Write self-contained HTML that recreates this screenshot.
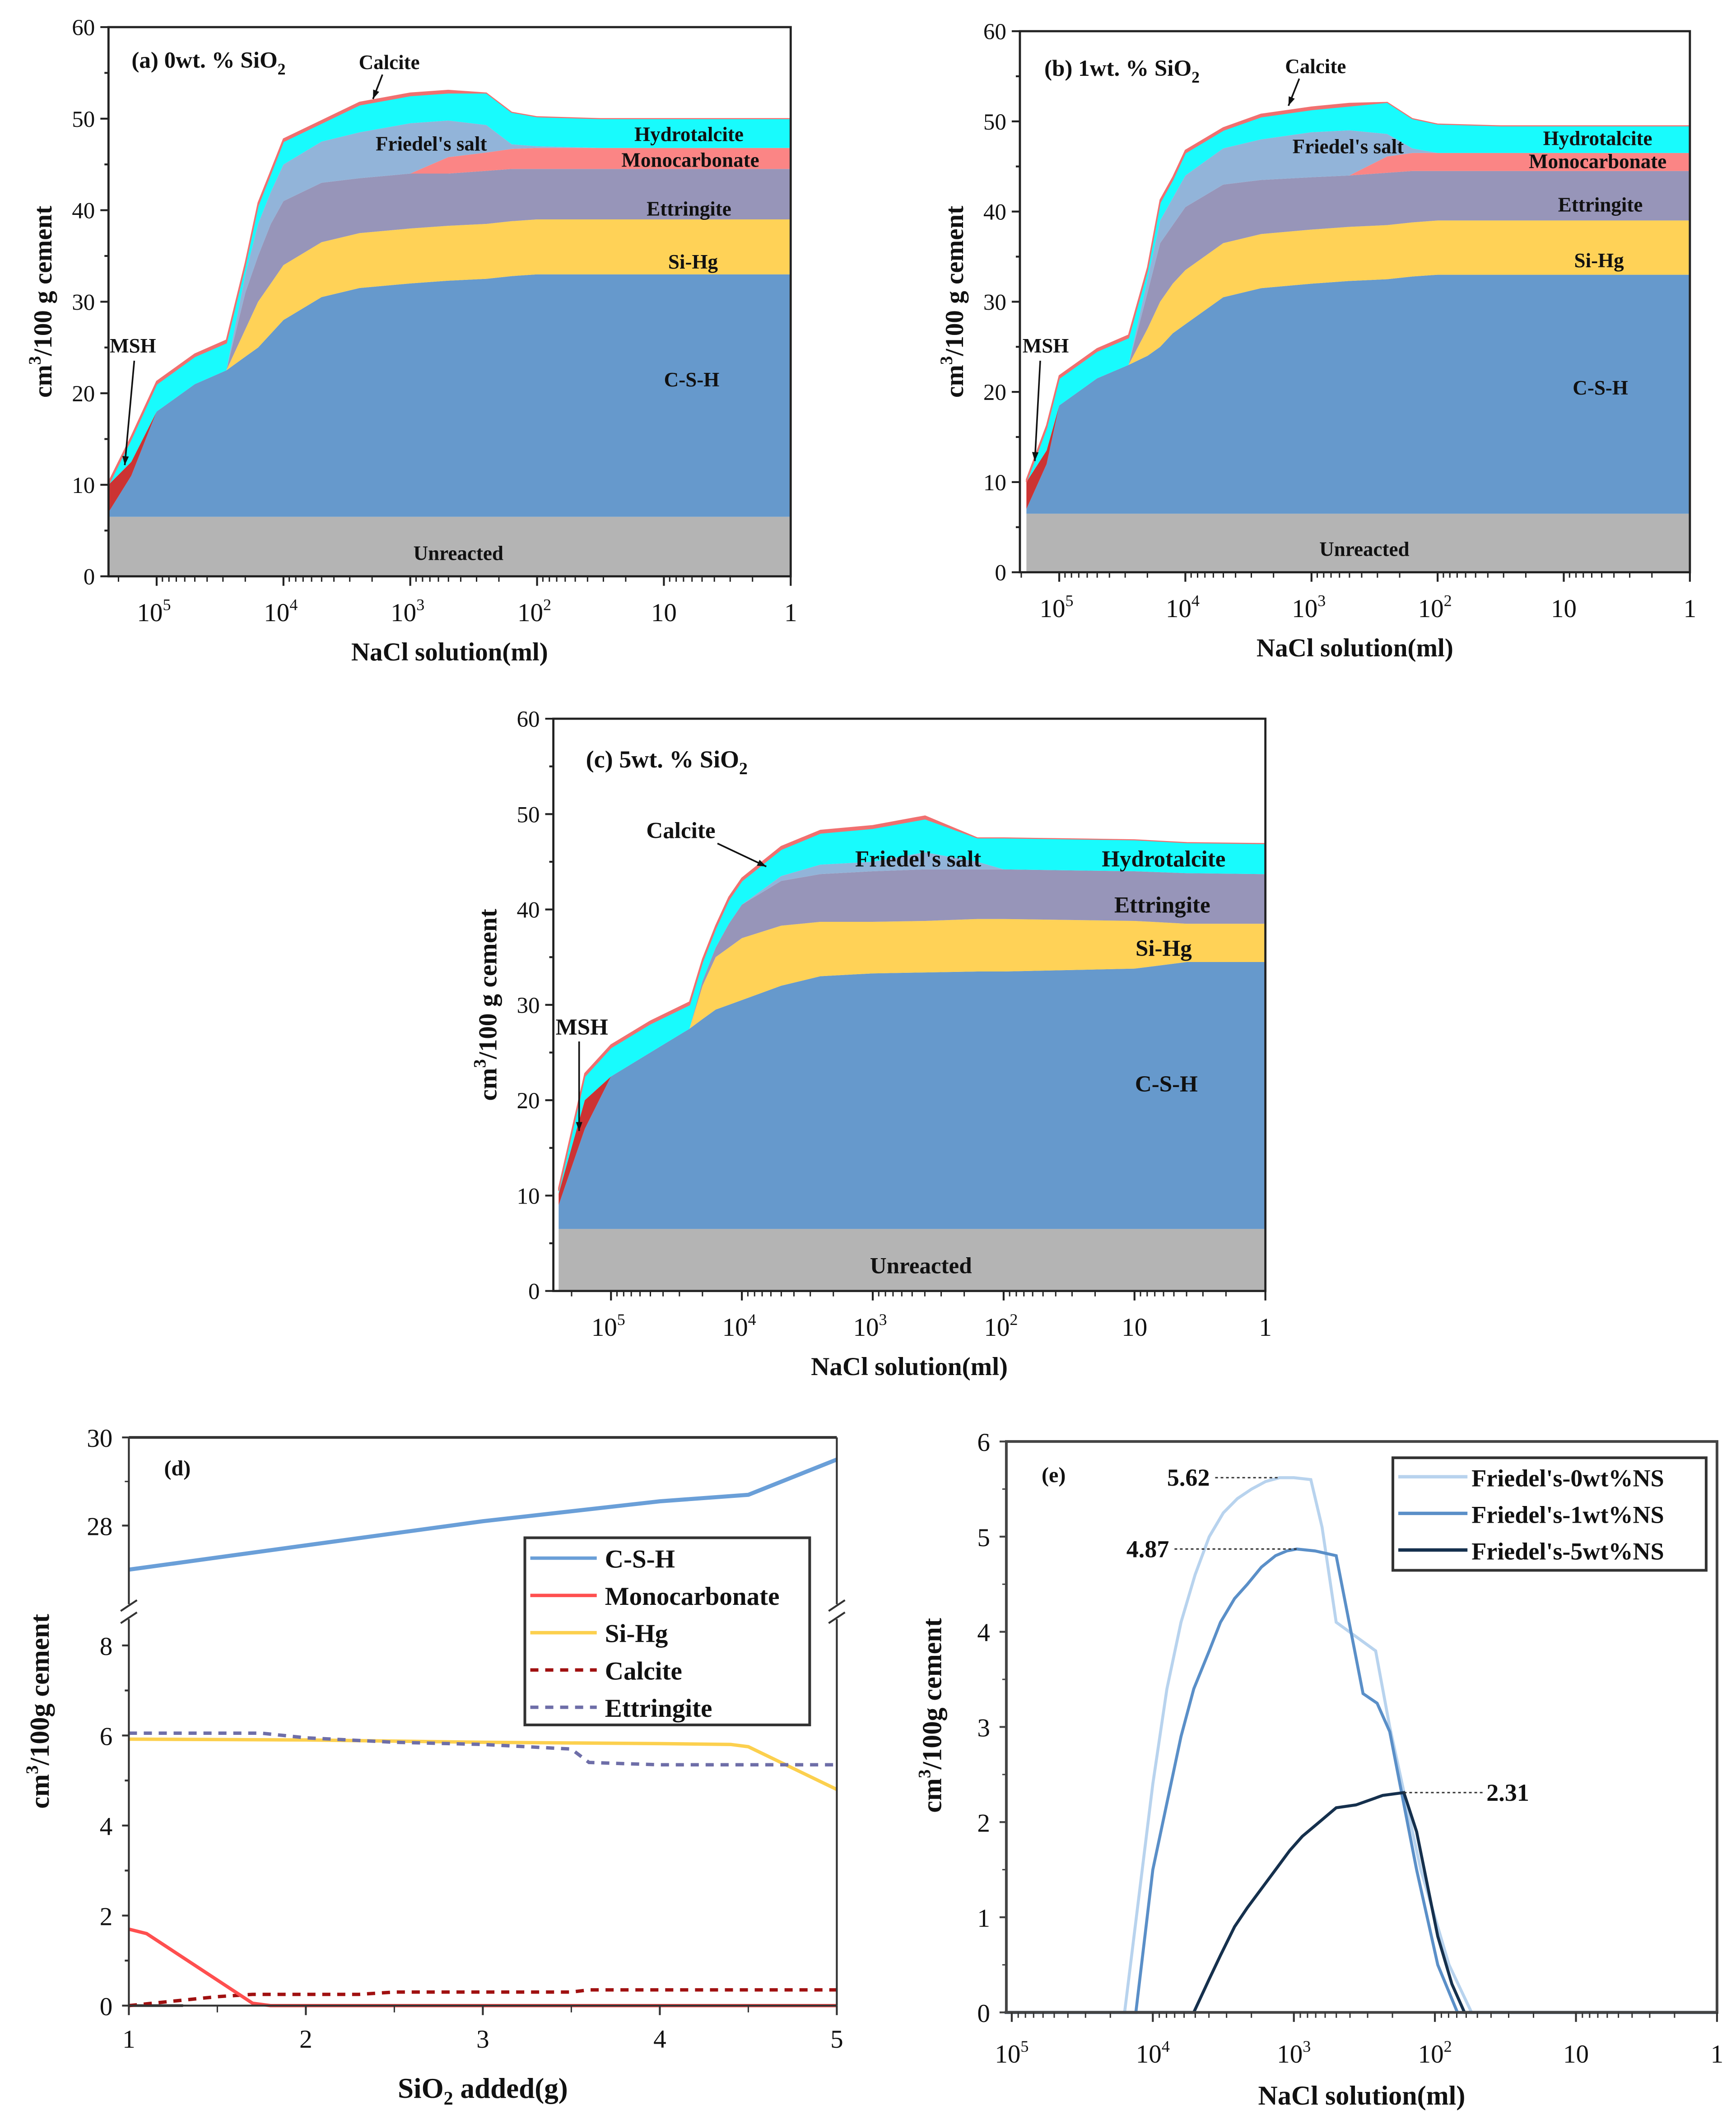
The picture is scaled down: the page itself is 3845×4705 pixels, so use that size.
<!DOCTYPE html>
<html><head><meta charset="utf-8">
<style>
html,body{margin:0;padding:0;background:#fff;}
svg{display:block;}
text{font-family:"Liberation Serif",serif;font-weight:bold;fill:#111;}
</style></head>
<body>
<svg id="fig" xmlns="http://www.w3.org/2000/svg" width="3845" height="4705" viewBox="0 0 1280 1566.3" preserveAspectRatio="none">
<rect x="0" y="0" width="1280" height="1566.3" fill="#fff"/>
</svg>
<script>
// ---------- Panel a data ----------
const aLogX = [5.38,5.2,5.0,4.7,4.45,4.3,4.2,4.1,4.0,3.7,3.4,3.0,2.7,2.4,2.2,2.0,1.5,1.0,0];
const aUnreacted = [6.5,6.5,6.5,6.5,6.5,6.5,6.5,6.5,6.5,6.5,6.5,6.5,6.5,6.5,6.5,6.5,6.5,6.5,6.5];
const aCSH = [0.5,4.5,11.5,14.5,16,17.5,18.5,20,21.5,24,25,25.5,25.8,26,26.3,26.5,26.5,26.5,26.5];
const aMSH = [3,1.5,0,0,0,0,0,0,0,0,0,0,0,0,0,0,0,0,0];
const aSiHg = [0,0,0,0,0,3,5,5.5,6,6,6,6,6,6,6,6,6,6,6];
const aEttr = [0,0,0,0,0,4,5,6.5,7,6.5,6,6,5.7,5.8,5.7,5.5,5.5,5.5,5.5];
const aMono = [0,0,0,0,0,0,0,0,0,0,0,0,1.8,2,2.2,2.3,2.3,2.3,2.3];
const aFried = [0,0,0,0,0,2,3.5,3.5,4,4.5,5,5.5,4,3,0.5,0.2,0,0,0];
const aHydro = [0,2.5,3,3,3,1,2,2,2.5,2,3,3,3,3.5,3.5,3.2,3.2,3.2,3.2];
const aCalc = [0.3,0.3,0.3,0.3,0.3,0.3,0.3,0.3,0.3,0.3,0.3,0.3,0.3,0,0,0,0,0,0];
// ---------- Panel b data ----------
const bLogX = [5.26,5.1,5.0,4.7,4.45,4.3,4.2,4.1,4.0,3.7,3.4,3.0,2.7,2.4,2.2,2.0,1.5,1.0,0];
const bUnreacted = [6.5,6.5,6.5,6.5,6.5,6.5,6.5,6.5,6.5,6.5,6.5,6.5,6.5,6.5,6.5,6.5,6.5,6.5,6.5];
const bCSH = [0.5,5.5,12,15,16.5,17.5,18.5,20,21,24,25,25.5,25.8,26,26.3,26.5,26.5,26.5,26.5];
const bMSH = [3,1.5,0,0,0,0,0,0,0,0,0,0,0,0,0,0,0,0,0];
const bSiHg = [0,0,0,0,0,3,5,5.5,6,6,6,6,6,6,6,6,6,6,6];
const bEttr = [0,0,0,0,0,4,6.5,6.5,7,6.5,6,5.8,5.7,5.8,5.7,5.5,5.5,5.5,5.5];
const bMono = [0,0,0,0,0,0,0,0,0,0,0,0,0,1.8,2,2,2,2,2];
const bFried = [0,0,0,0,0,1.5,2.5,3,3.5,4,4.5,5,5,2.5,0.5,0,0,0,0];
const bHydro = [0,2.5,3,3,3,1,2,2,2.5,2,2.5,2.5,2.7,3.5,3.3,3.2,3,3,3];
const bCalc = [0.3,0.3,0.3,0.3,0.3,0.3,0.3,0.3,0.3,0.3,0.3,0.3,0.3,0,0,0,0,0,0];
// ---------- Panel c data ----------
const cLogX = [5.4,5.2,5.0,4.7,4.4,4.3,4.2,4.1,4.0,3.7,3.4,3.0,2.6,2.2,2.0,1.0,0.6,0];
const cUnreacted = [6.5,6.5,6.5,6.5,6.5,6.5,6.5,6.5,6.5,6.5,6.5,6.5,6.5,6.5,6.5,6.5,6.5,6.5];
const cCSH = [2.5,10.5,16,18.5,21,22,23,23.5,24,25.5,26.5,26.8,26.9,27,27,27.3,28,28];
const cMSH = [1.2,3,0,0,0,0,0,0,0,0,0,0,0,0,0,0,0,0];
const cSiHg = [0,0,0,0,0,3.5,5.5,6,6.5,6.3,5.7,5.4,5.4,5.5,5.5,5,4,4];
const cEttr = [0,0,0,0,0,0.5,1,2.5,3.5,4.7,5,5.3,5.4,5.2,5.2,5.2,5.3,5.2];
const cMono = [0,0,0,0,0,0,0,0,0,0,0,0,0,0,0,0,0,0];
const cFried = [0,0,0,0,0,0,0,0,0,0.5,1,1,1.8,0.8,0,0,0,0];
const cHydro = [0.3,2.5,3,3,2.5,2,2,2.5,2.5,2.8,3.3,3.5,3.5,2.5,3.3,3.3,3.2,3.2];
const cCalc = [0.3,0.3,0.3,0.3,0.3,0.3,0.3,0.3,0.3,0.3,0.3,0.3,0.3,0,0,0,0,0];
// ---------- Panel d data ----------
const dCshX = [1,2,3,4,4.5,5];
const dCshY = [27.0,27.55,28.1,28.55,28.7,29.5];
const dMonoX = [1,1.1,1.7,1.8,5];
const dMonoY = [1.7,1.6,0.05,0,0];
const dSiHgX = [1,2,3,4,4.4,4.5,5];
const dSiHgY = [5.92,5.9,5.85,5.82,5.8,5.75,4.8];
const dCalcX = [1,1.5,1.7,2,2.3,2.5,3.5,3.6,5];
const dCalcY = [0,0.2,0.25,0.25,0.25,0.3,0.3,0.35,0.35];
const dEttrX = [1,1.75,2,2.5,3,3.5,3.6,4,5];
const dEttrY = [6.05,6.05,5.95,5.85,5.8,5.7,5.4,5.35,5.35];
const dXTicks = ['1','2','3','4','5'];
// ---------- Panel e data ----------
const e0X = [5.05,4.2,4.1,4.0,3.9,3.8,3.7,3.6,3.5,3.4,3.3,3.2,3.1,3.0,2.88,2.8,2.7,2.42,2.32,2.1,1.9,1.74,0];
const e0Y = [0,0,1.2,2.4,3.4,4.1,4.6,5.0,5.25,5.4,5.5,5.58,5.62,5.62,5.6,5.1,4.1,3.8,3.0,1.5,0.5,0,0];
const e1X = [5.05,4.12,4.0,3.9,3.8,3.71,3.6,3.52,3.42,3.33,3.23,3.13,3.05,2.98,2.85,2.7,2.51,2.41,2.32,2.13,1.98,1.84,0];
const e1Y = [0,0,1.5,2.2,2.9,3.4,3.8,4.1,4.35,4.5,4.68,4.8,4.85,4.87,4.85,4.8,3.35,3.25,2.95,1.5,0.5,0,0];
const e5X = [5.05,3.71,3.6,3.52,3.42,3.33,3.23,3.13,3.03,2.94,2.82,2.7,2.56,2.37,2.22,2.13,1.98,1.88,1.79,0];
const e5Y = [0,0,0.35,0.6,0.9,1.1,1.3,1.5,1.7,1.85,2.0,2.15,2.18,2.28,2.31,1.9,0.8,0.3,0,0];
const ePeaks = ['5.62','4.87','2.31'];
const eYTicks = ['0','1','2','3','4','5','6'];

const NS='http://www.w3.org/2000/svg';
const svg=document.getElementById('fig');
function mk(tag,attrs,parent){const e=document.createElementNS(NS,tag);for(const k in attrs)e.setAttribute(k,attrs[k]);(parent||svg).appendChild(e);return e;}
function txt(x,y,s,size,parent,anchor,weight){const t=mk('text',{x:x,y:y,'font-size':size,'text-anchor':anchor||'start'},parent);if(weight)t.setAttribute('style','font-weight:'+weight);t.textContent=s;return t;}

const colors={un:'#b4b4b4',csh:'#6699cc',msh:'#cc3333',sihg:'#ffd257',ettr:'#9795b9',mono:'#fb8585',fried:'#92b4d9',hydro:'#18fbfd',calc:'#f07070'};

function stackPanel(id,P,logX,layers,labels){
  const g=mk('g',{});
  
  
  const X=l=>P.x1-P.dec*l;
  const Y=v=>P.y0-(P.y0-P.y60)*v/60;
  let cum=logX.map(()=>0);
  const keys=['un','csh','msh','sihg','ettr','mono','fried','hydro','calc'];
  const names=['unreacted','csh','msh','si-hg','ettringite','monocarbonate','friedels-salt','hydrotalcite','calcite'];
  layers.forEach((arr,li)=>{
    const top=cum.map((c,i)=>c+arr[i]);
    let d='M'+logX.map((l,i)=>X(l).toFixed(1)+','+Y(top[i]).toFixed(1)).join('L');
    for(let i=logX.length-1;i>=0;i--)d+='L'+X(logX[i]).toFixed(1)+','+Y(cum[i]).toFixed(1);
    d+='Z';
    const p=mk('path',{d:d,fill:colors[keys[li]],stroke:keys[li]==='calc'?colors.calc:'none','stroke-width':keys[li]==='calc'?0.8:0},g);
    
    
    cum=top;
  });
  const fr=mk('rect',{x:P.x0,y:P.y60,width:P.x1-P.x0,height:P.y0-P.y60,fill:'none',stroke:'#222','stroke-width':1.6},g);
  
  
  for(let v=0;v<=60;v+=5){
    const y=Y(v);
    mk('line',{x1:P.x0-(v%10?3:6),x2:P.x0,y1:y,y2:y,stroke:'#222','stroke-width':1.4},g);
    if(v%10===0){const t=txt(P.x0-10,y+6,String(v),17,g,'end','normal');}
  }
  for(let dgt=0;dgt<=5;dgt++){
    const x=X(dgt);
    mk('line',{x1:x,x2:x,y1:P.y0,y2:P.y0+7,stroke:'#222','stroke-width':1.4},g);
    for(let m=2;m<=9;m++){const xm=X(dgt+Math.log10(m));if(xm>P.x0&&xm<P.x1)mk('line',{x1:xm,x2:xm,y1:P.y0,y2:P.y0+4,stroke:'#222','stroke-width':1},g);}
    const t=mk('text',{x:x+(dgt>=2?-2:0),y:P.y0+33,'font-size':19,'text-anchor':'middle','style':'font-weight:normal'},g);
    t.textContent=dgt===0?'1':'10';
    if(dgt>=2){const s=mk('tspan',{dy:-8,'font-size':12},t);s.textContent=String(dgt);}
    
    
  }
  const xt=txt((P.x0+P.x1)/2,P.y0+62,'NaCl solution(ml)',19,g,'middle');
  
  const yg=mk('text',{x:0,y:0,'font-size':19,'text-anchor':'middle',transform:'translate('+(P.x0-42)+','+((P.y0+P.y60)/2)+') rotate(-90)'},g);
  yg.textContent='cm';const s3=mk('tspan',{dy:-8,'font-size':13},yg);s3.textContent='3';const s4=mk('tspan',{dy:8},yg);s4.textContent='/100 g cement';
  
  labels.forEach(L=>{const t=txt(L[1],L[2],L[0],L[3]||15,g,'middle');});
  return {g,X,Y};
}
function arrow(g,x1,y1,x2,y2){
  mk('line',{x1:x1,y1:y1,x2:x2,y2:y2,stroke:'#111','stroke-width':1.2},g);
  const a=Math.atan2(y2-y1,x2-x1),L=7;
  mk('path',{d:`M${x2},${y2}L${x2-L*Math.cos(a-0.35)},${y2-L*Math.sin(a-0.35)}L${x2-L*Math.cos(a+0.35)},${y2-L*Math.sin(a+0.35)}Z`,fill:'#111'},g);
}
function title(g,x,y,s,size){const t=mk('text',{x:x,y:y,'font-size':size},g);t.textContent=s;const sub=mk('tspan',{dy:5,'font-size':size*0.7},t);sub.textContent='2';}

let A=stackPanel('a',{x0:80,x1:583,y0:425,y60:20,dec:93.5},aLogX,[aUnreacted,aCSH,aMSH,aSiHg,aEttr,aMono,aFried,aHydro,aCalc],
 [['Unreacted',338,413],['C-S-H',510,285],['Si-Hg',511,198],['Ettringite',508,159],['Monocarbonate',509,123],['Hydrotalcite',508,104],["Friedel's salt",318,111],['Calcite',287,51],['MSH',98,260]]);
title(A.g,97,50,'(a) 0wt. % SiO',17);
arrow(A.g,282,55,275,73);arrow(A.g,99,266,92,343);
let B=stackPanel('b',{x0:752,x1:1246,y0:422,y60:23,dec:93},bLogX,[bUnreacted,bCSH,bMSH,bSiHg,bEttr,bMono,bFried,bHydro,bCalc],
 [['Unreacted',1006,410],['C-S-H',1180,291],['Si-Hg',1179,197],['Ettringite',1180,156],['Monocarbonate',1178,124],['Hydrotalcite',1178,107],["Friedel's salt",994,113],['Calcite',970,54],['MSH',771,260]]);
title(B.g,770,56,'(b) 1wt. % SiO',17);
arrow(B.g,958,58,950,78);arrow(B.g,767,266,763,340);
let C=stackPanel('c',{x0:408,x1:933,y0:952,y60:530,dec:96.5},cLogX,[cUnreacted,cCSH,cMSH,cSiHg,cEttr,cMono,cFried,cHydro,cCalc],
 [['Unreacted',679,939,17],['C-S-H',860,805,17],['Si-Hg',858,705,17],['Ettringite',857,673,17],['Hydrotalcite',858,639,17],["Friedel's salt",677,639,17],['Calcite',502,618,17],['MSH',429,763,17]]);
title(C.g,432,566,'(c) 5wt. % SiO',18);
arrow(C.g,529,622,565,639);arrow(C.g,427,768,427,834);

// Panel d
(function(){
  const g=mk('g',{});
  const x0=95,x1=617;
  const X=v=>x0+(v-1)*(x1-x0)/4;
  const Yu=v=>1060+(30-v)*32.5;
  const Yl=v=>1479-v*33.2;
  const Y=v=>v>=20?Yu(v):Yl(v);
  function series(xs,ys,col,dash,name,w){
    const p=mk('polyline',{points:xs.map((x,i)=>X(x).toFixed(1)+','+Y(ys[i]).toFixed(1)).join(' '),fill:'none',stroke:col,'stroke-width':w||2.5,'stroke-dasharray':dash||'none'},g);
    
  }
  mk('line',{x1:x0,y1:1479,x2:x0+40,y2:1479,stroke:'#444','stroke-width':2},g);
  series(dCshX,dCshY,'#6a9fd8','','csh',3);
  series(dSiHgX,dSiHgY,'#fcd04e','','si-hg');
  series(dEttrX,dEttrY,'#6e6ea8','6,5','ettringite');
  series(dCalcX,dCalcY,'#a01010','6,5','calcite');
  series(dMonoX,dMonoY,'#ff4f4f','','monocarbonate');
  mk('line',{x1:x0,y1:1060,x2:x1,y2:1060,stroke:'#333','stroke-width':2},g);
  mk('line',{x1:x0,y1:1479,x2:x1,y2:1479,stroke:'#333','stroke-width':1.4},g);
  [x0,x1].forEach(x=>{
    mk('line',{x1:x,y1:1060,x2:x,y2:1183,stroke:'#333','stroke-width':1.4},g);
    mk('line',{x1:x,y1:1194,x2:x,y2:1479,stroke:'#333','stroke-width':1.4},g);
    mk('line',{x1:x-6,y1:1188,x2:x+6,y2:1180,stroke:'#333','stroke-width':1.4},g);
    mk('line',{x1:x-6,y1:1197,x2:x+6,y2:1189,stroke:'#333','stroke-width':1.4},g);
  });
  [30,28].forEach(v=>{mk('line',{x1:x0-5,x2:x0,y1:Yu(v),y2:Yu(v),stroke:'#333','stroke-width':1.4},g);const t=txt(x0-12,Yu(v)+7,String(v),19,g,'end','normal');});
  mk('line',{x1:x0-3,x2:x0,y1:Yu(29),y2:Yu(29),stroke:'#333'},g);
  for(let v=0;v<=8;v++){mk('line',{x1:x0-(v%2?3:5),x2:x0,y1:Yl(v),y2:Yl(v),stroke:'#333','stroke-width':1.4},g);if(v%2===0){const t=txt(x0-12,Yl(v)+7,String(v),19,g,'end','normal');}}
  dXTicks.forEach((s,i)=>{const x=X(i+1);mk('line',{x1:x,x2:x,y1:1479,y2:1486,stroke:'#333','stroke-width':1.4},g);if(i<4)mk('line',{x1:x+(x1-x0)/8,x2:x+(x1-x0)/8,y1:1479,y2:1484,stroke:'#333'},g);const t=txt(x,1510,s,19,g,'middle','normal');});
  const xt=mk('text',{x:356,y:1547,'font-size':21,'text-anchor':'middle'},g);xt.textContent='SiO';const sb=mk('tspan',{dy:5,'font-size':14},xt);sb.textContent='2';const rs=mk('tspan',{dy:-5},xt);rs.textContent=' added(g)';
  
  const yt=mk('text',{x:0,y:0,'font-size':20,'text-anchor':'middle',transform:'translate(36,1262) rotate(-90)'},g);yt.textContent='cm';const a1=mk('tspan',{dy:-8,'font-size':13},yt);a1.textContent='3';const a2=mk('tspan',{dy:8},yt);a2.textContent='/100g cement';
  
  const pt=txt(121,1088,'(d)',16,g);
  const lg=mk('g',{},g);
  mk('rect',{x:387,y:1134,width:210,height:138,fill:'#fff',stroke:'#333','stroke-width':2},lg);
  [['C-S-H','#6a9fd8',''],['Monocarbonate','#ff4f4f',''],['Si-Hg','#fcd04e',''],['Calcite','#a01010','6,5'],['Ettringite','#6e6ea8','6,5']].forEach((L,i)=>{
    const y=1149+i*27.5;
    const e=mk('g',{},lg);
    mk('line',{x1:391,x2:440,y1:y,y2:y,stroke:L[1],'stroke-width':2.5,'stroke-dasharray':L[2]||'none'},e);
    txt(446,y+7,L[0],19,e);
  });
})();

// Panel e
(function(){
  const g=mk('g',{});
  const x0=742,x1=1266,y0=1484,y6=1063,dec=104;
  const X=l=>x1-dec*l;
  const Y=v=>y0-(y0-y6)*v/6;
  function series(xs,ys,col,name,w){
    const p=mk('polyline',{points:xs.map((x,i)=>X(x).toFixed(1)+','+Y(ys[i]).toFixed(1)).join(' '),fill:'none',stroke:col,'stroke-width':w||2},g);
    
  }
  series(e0X,e0Y,'#b8d3ee','friedels-0wt',2.2);
  series(e1X,e1Y,'#5a8fc8','friedels-1wt',2.2);
  series(e5X,e5Y,'#15304d','friedels-5wt',2.2);
  mk('rect',{x:x0,y:y6,width:x1-x0,height:y0-y6,fill:'none',stroke:'#444','stroke-width':2},g);
  eYTicks.forEach((s,i)=>{const y=Y(i);mk('line',{x1:x0-5,x2:x0,y1:y,y2:y,stroke:'#444','stroke-width':1.4},g);if(i<6)mk('line',{x1:x0-3,x2:x0,y1:Y(i+0.5),y2:Y(i+0.5),stroke:'#444'},g);const t=txt(x0-12,y+7,s,19,g,'end','normal');});
  for(let dgt=0;dgt<=5;dgt++){
    const x=X(dgt);
    mk('line',{x1:x,x2:x,y1:y0,y2:y0+7,stroke:'#333','stroke-width':1.4},g);
    for(let m=2;m<=9;m++){const xm=X(dgt+Math.log10(m));if(xm>x0&&xm<x1)mk('line',{x1:xm,x2:xm,y1:y0,y2:y0+4,stroke:'#333','stroke-width':1},g);}
    const t=mk('text',{x:x,y:y0+37,'font-size':19,'text-anchor':'middle','style':'font-weight:normal'},g);
    t.textContent=dgt===0?'1':'10';
    if(dgt>=2){const s=mk('tspan',{dy:-8,'font-size':12},t);s.textContent=String(dgt);}
    
  }
  const xt=txt(1004,1552,'NaCl solution(ml)',20,g,'middle');
  const yt=mk('text',{x:0,y:0,'font-size':20,'text-anchor':'middle',transform:'translate(694,1265) rotate(-90)'},g);yt.textContent='cm';const a1=mk('tspan',{dy:-8,'font-size':13},yt);a1.textContent='3';const a2=mk('tspan',{dy:8},yt);a2.textContent='/100g cement';
  
  const pt=txt(768,1093,'(e)',16,g);
  const pk=[[e0X,e0Y,-1,892],[e1X,e1Y,-1,862],[e5X,e5Y,1,1096]];
  pk.forEach((P,i)=>{
    const ys=P[1];let mi=0;ys.forEach((v,j)=>{if(v>ys[mi])mi=j;});
    const px=X(P[0][mi]),py=Y(ys[mi]);
    mk('line',{x1:P[2]<0?P[3]+4:px,x2:P[2]<0?px:P[3]-2,y1:py,y2:py,stroke:'#333','stroke-width':1,'stroke-dasharray':'2,2'},g);
    const t=txt(P[3],py+6,ePeaks[i],18,g,P[2]<0?'end':'start');
    
  });
  const lg=mk('g',{},g);
  mk('rect',{x:1027,y:1075,width:231,height:83,fill:'#fff',stroke:'#333','stroke-width':2},lg);
  [["Friedel's-0wt%NS",'#b8d3ee'],["Friedel's-1wt%NS",'#5a8fc8'],["Friedel's-5wt%NS",'#15304d']].forEach((L,i)=>{
    const y=1089+i*27;
    const e=mk('g',{},lg);
    mk('line',{x1:1031,x2:1082,y1:y,y2:y,stroke:L[1],'stroke-width':2.5},e);
    txt(1085,y+7,L[0],18,e);
  });
})();
</script>
</body></html>
